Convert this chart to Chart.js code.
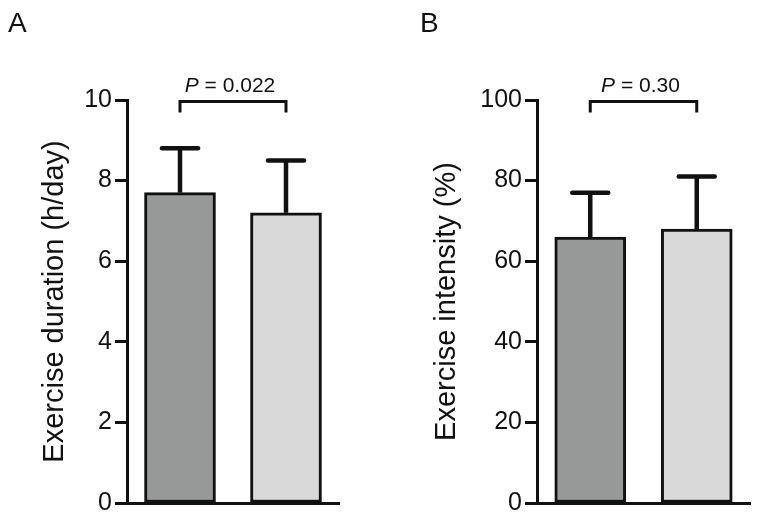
<!DOCTYPE html>
<html><head><meta charset="utf-8">
<script src="https://cdn.jsdelivr.net/npm/chart.js@4/dist/chart.umd.min.js"></script>
<style>
html,body{margin:0;padding:0;background:#fff;}
#wrap{position:relative;width:760px;height:521px;overflow:hidden;}
.box{position:absolute;top:0;width:380px;height:521px;}
canvas{display:block;}
</style></head><body>
<div id="wrap">
<div class="box" style="left:0"><canvas id="cA" width="380" height="521"></canvas></div>
<div class="box" style="left:380px"><canvas id="cB" width="380" height="521"></canvas></div>
</div>
<script>
// ---- data ----
const groups = ['Group 1', 'Group 2'];
const durationMean = [7.7, 7.2];
const durationSD = [1.1, 1.3];
const durationTicks = [0, 2, 4, 6, 8, 10];
const durationP = '0.022';
const intensityMean = [66, 68];
const intensitySD = [11, 13];
const intensityTicks = [0, 20, 40, 60, 80, 100];
const intensityP = '0.30';
const barColors = ['#979998', '#d9d9d9'];

const FONT = "'Liberation Sans', Arial, sans-serif";

const annot = {
  id: 'annot',
  afterDatasetsDraw(chart, args, o) {
    const ctx = chart.ctx;
    const ys = chart.scales.y;
    const meta = chart.getDatasetMeta(0);
    ctx.save();
    ctx.strokeStyle = '#111';
    // error bars
    meta.data.forEach((bar, i) => {
      const yb = ys.getPixelForValue(o.mean[i]);
      const yt = ys.getPixelForValue(o.mean[i] + o.sd[i]);
      ctx.lineWidth = 4.5;
      ctx.lineCap = 'butt';
      ctx.beginPath(); ctx.moveTo(bar.x, yb); ctx.lineTo(bar.x, yt); ctx.stroke();
      ctx.lineCap = 'round';
      ctx.beginPath(); ctx.moveTo(bar.x - 18, yt); ctx.lineTo(bar.x + 18, yt); ctx.stroke();
    });
    // bracket
    const x1 = meta.data[0].x, x2 = meta.data[1].x;
    const yb = ys.getPixelForValue(o.bracket) + 1.5;
    ctx.lineWidth = 3; ctx.lineCap = 'butt'; ctx.lineJoin = 'miter';
    ctx.beginPath();
    ctx.moveTo(x1, yb + 11); ctx.lineTo(x1, yb); ctx.lineTo(x2, yb); ctx.lineTo(x2, yb + 11);
    ctx.stroke();
    // p text
    ctx.fillStyle = '#111';
    ctx.textBaseline = 'alphabetic';
    const fi = 'italic 21px ' + FONT, fn = '21px ' + FONT;
    ctx.font = fi; const wP = ctx.measureText('P').width;
    const rest = ' = ' + o.p;
    ctx.font = fn; const wR = ctx.measureText(rest).width;
    let sx = (x1 + x2) / 2 - (wP + wR) / 2 - 3;
    ctx.textAlign = 'left';
    ctx.font = fi; ctx.fillText('P', sx, yb - 10);
    ctx.font = fn; ctx.fillText(rest, sx + wP, yb - 10);
    // panel letter
    ctx.font = '28px ' + FONT;
    ctx.fillText(o.letter, o.letterX, 32);
    ctx.restore();
  }
};

function makeChart(id, mean, sd, ticks, pval, title, letter, letterX, axisW, padRight, titlePad) {
  const maxV = ticks[ticks.length - 1];
  return new Chart(document.getElementById(id), {
    type: 'bar',
    data: {
      labels: groups,
      datasets: [{
        data: mean,
        backgroundColor: barColors,
        borderColor: '#111',
        borderWidth: 3,
        borderSkipped: false,
        barThickness: 71
      }]
    },
    options: {
      responsive: false,
      animation: false,
      events: [],
      layout: { padding: { top: 100, right: padRight, bottom: 0, left: 0 } },
      plugins: {
        legend: { display: false },
        tooltip: { enabled: false },
        annot: { mean: mean, sd: sd, p: pval, bracket: maxV, letter: letter, letterX: letterX }
      },
      scales: {
        x: {
          ticks: { display: false },
          grid: { display: false, drawTicks: false },
          border: { display: true, color: '#111', width: 3 },
          afterFit(s) { s.height = 18; }
        },
        y: {
          min: 0, max: maxV,
          afterBuildTicks(s) { s.ticks = ticks.map(v => ({ value: v })); },
          ticks: { color: '#111', padding: 3, font: { family: FONT, size: 25 } },
          grid: { drawOnChartArea: false, drawTicks: true, tickLength: 12, tickWidth: 3, tickColor: '#111' },
          border: { display: true, color: '#111', width: 3 },
          title: { display: true, text: title, color: '#111', font: { family: FONT, size: 29 }, padding: { top: titlePad, bottom: 0 } },
          afterFit(s) { s.width = axisW; }
        }
      }
    },
    plugins: [annot]
  });
}

makeChart('cA', durationMean, durationSD, durationTicks, durationP, 'Exercise duration (h/day)', 'A', 8, 127, 41, 38);
makeChart('cB', intensityMean, intensitySD, intensityTicks, intensityP, 'Exercise intensity (%)', 'B', 40, 157, 10, 50);
</script>
</body></html>
